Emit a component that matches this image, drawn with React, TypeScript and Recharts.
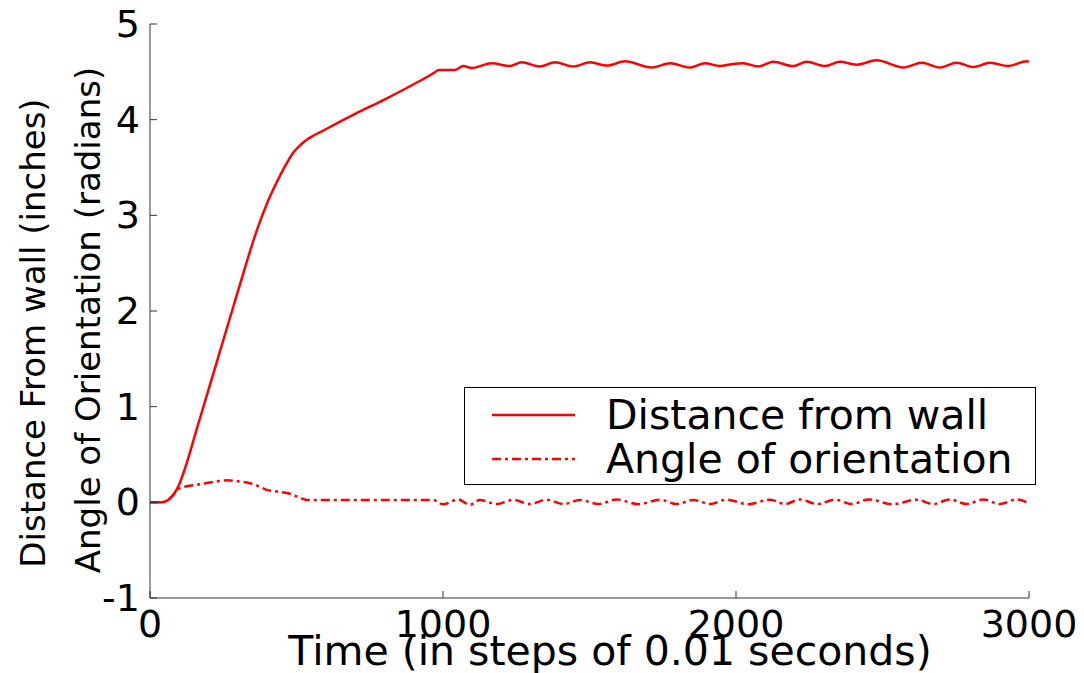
import { LineChart, Line, XAxis, YAxis } from 'recharts'

const RED = '#ff0000'
const FONT = '"DejaVu Sans", "Liberation Sans", sans-serif'

const X_TICKS = [0, 1000, 2000, 3000]
const Y_TICKS = [-1, 0, 1, 2, 3, 4, 5]

const X_TITLE = 'Time (in steps of 0.01 seconds)'
const Y_TITLE_1 = 'Distance From wall (inches)'
const Y_TITLE_2 = 'Angle of Orientation (radians)'
const LEGEND_NAMES = ['Distance from wall', 'Angle of orientation']

// distance from wall
const distT = [
  0, 40, 60, 80, 100, 120, 160, 200, 240, 280, 320, 345, 370, 400, 430, 460, 490, 515, 540,
  600, 700, 800, 900, 970, 985, 1041, 1069, 1098, 1166, 1229, 1268, 1331, 1382, 1445, 1502,
  1559, 1621, 1712, 1775, 1843, 1894, 1945, 1985, 2025, 2076, 2127, 2196, 2241, 2304, 2355,
  2412, 2480, 2571, 2634, 2696, 2753, 2810, 2867, 2929, 2992, 3000,
]
const distV = [
  0, 0, 0.02, 0.08, 0.19, 0.36, 0.77, 1.18, 1.59, 2.0, 2.41, 2.66, 2.89, 3.13, 3.33, 3.51, 3.66, 3.74, 3.8,
  3.9, 4.06, 4.21, 4.37, 4.49, 4.52, 4.52, 4.56, 4.54, 4.59, 4.56, 4.6, 4.555, 4.6, 4.555, 4.6,
  4.565, 4.61, 4.545, 4.59, 4.545, 4.59, 4.56, 4.58, 4.59, 4.555, 4.605, 4.56, 4.605, 4.56, 4.605,
  4.575, 4.62, 4.545, 4.595, 4.545, 4.595, 4.55, 4.595, 4.56, 4.61, 4.605,
]

// angle of orientation
const angT = [
  0, 40, 60, 80, 97, 130, 171, 220, 262, 300, 341, 370, 398, 440, 478, 510, 535, 700, 967,
  1000, 1051, 1092, 1126, 1183, 1240, 1297, 1354, 1411, 1468, 1530, 1593, 1667, 1741, 1797,
  1854, 1911, 1968, 2042, 2116, 2167, 2218, 2278, 2338, 2395, 2452, 2535, 2617, 2673, 2730,
  2787, 2844, 2901, 2958, 3000,
]
const angV = [
  0, 0, 0.02, 0.08, 0.14, 0.17, 0.19, 0.215, 0.23, 0.22, 0.2, 0.17, 0.13, 0.11, 0.09, 0.05, 0.025, 0.025, 0.025,
  -0.02, 0.03, -0.025, 0.025, -0.018, 0.025, -0.018, 0.028, -0.018, 0.025, -0.018, 0.03, -0.02, 0.028, -0.018,
  0.025, -0.018, 0.028, -0.02, 0.028, -0.018, 0.03, -0.018, 0.028, -0.018, 0.03, -0.02, 0.028, -0.018, 0.03,
  -0.018, 0.03, -0.018, 0.03, -0.01,
]

const distData = distT.map((t, i) => ({ t, v: distV[i] }))
const angData = angT.map((t, i) => ({ t, v: angV[i] }))

const DASH_DOT = '9 4 3 4'

function YTick({ x, y, payload }: any) {
  return (
    <g>
      <line x1={x} x2={x + 7} y1={y} y2={y} stroke="#333" />
      <text x={x - 10} y={y} textAnchor="end" dominantBaseline="central" fontSize={38} fill="#000" fontFamily={FONT}>
        {payload.value}
      </text>
    </g>
  )
}

function XTick({ x, y, payload }: any) {
  return (
    <g>
      <line x1={x} x2={x} y1={y} y2={y - 7} stroke="#333" />
      <text x={x} y={y + 26} textAnchor="middle" dominantBaseline="central" fontSize={38} fill="#000" fontFamily={FONT}>
        {payload.value}
      </text>
    </g>
  )
}

function YTitle() {
  return (
    <g fontFamily={FONT} fontSize={34} fill="#000">
      <text x={33} y={333} transform="rotate(-90 33 333)" textAnchor="middle" dominantBaseline="central">
        {Y_TITLE_1}
      </text>
      <text x={88} y={320} transform="rotate(-90 88 320)" textAnchor="middle" dominantBaseline="central">
        {Y_TITLE_2}
      </text>
    </g>
  )
}

function XTitle() {
  return (
    <text x={610} y={651} textAnchor="middle" dominantBaseline="central" fontSize={41} fill="#000" fontFamily={FONT}>
      {X_TITLE}
    </text>
  )
}

function LegendBox() {
  const dashes = [undefined, DASH_DOT]
  return (
    <div
      style={{
        position: 'absolute',
        left: 464,
        top: 387,
        width: 570,
        height: 96,
        border: '1px solid #000',
        background: '#fff',
        fontFamily: FONT,
        fontSize: 41,
        color: '#000',
      }}
    >
      {LEGEND_NAMES.map((name, i) => (
        <div key={name} style={{ position: 'absolute', left: 27, top: 5 + i * 44, height: 44, display: 'flex', alignItems: 'center' }}>
          <svg width={84} height={10} style={{ display: 'block' }}>
            <line x1={0} x2={83} y1={5} y2={5} stroke={RED} strokeWidth={2.5} strokeDasharray={dashes[i]} />
          </svg>
          <span style={{ marginLeft: 30, lineHeight: '44px', whiteSpace: 'nowrap' }}>{name}</span>
        </div>
      ))}
    </div>
  )
}

export default function App() {
  return (
    <div style={{ position: 'absolute', left: 0, top: 0, width: 1084, height: 673, background: '#fff' }}>
      <LineChart width={1084} height={673} margin={{ top: 24, right: 55, left: 0, bottom: 0 }} style={{ fontFamily: FONT }}>
        <XAxis
          type="number"
          dataKey="t"
          domain={[0, 3000]}
          ticks={X_TICKS}
          height={75}
          tickSize={0}
          tickMargin={0}
          tick={<XTick />}
          axisLine={{ stroke: '#333' }}
          tickLine={false}
          allowDataOverflow
          label={<XTitle />}
        />
        <YAxis
          type="number"
          domain={[-1, 5]}
          ticks={Y_TICKS}
          width={150}
          tickSize={0}
          tickMargin={0}
          tick={<YTick />}
          axisLine={{ stroke: '#333' }}
          tickLine={false}
          allowDataOverflow
          label={<YTitle />}
        />
        <Line data={distData} dataKey="v" type="monotone" stroke={RED} strokeWidth={2.5} dot={false} isAnimationActive={false} />
        <Line data={angData} dataKey="v" type="monotone" stroke={RED} strokeWidth={2.5} strokeDasharray={DASH_DOT} dot={false} isAnimationActive={false} />
      </LineChart>
      <LegendBox />
    </div>
  )
}
